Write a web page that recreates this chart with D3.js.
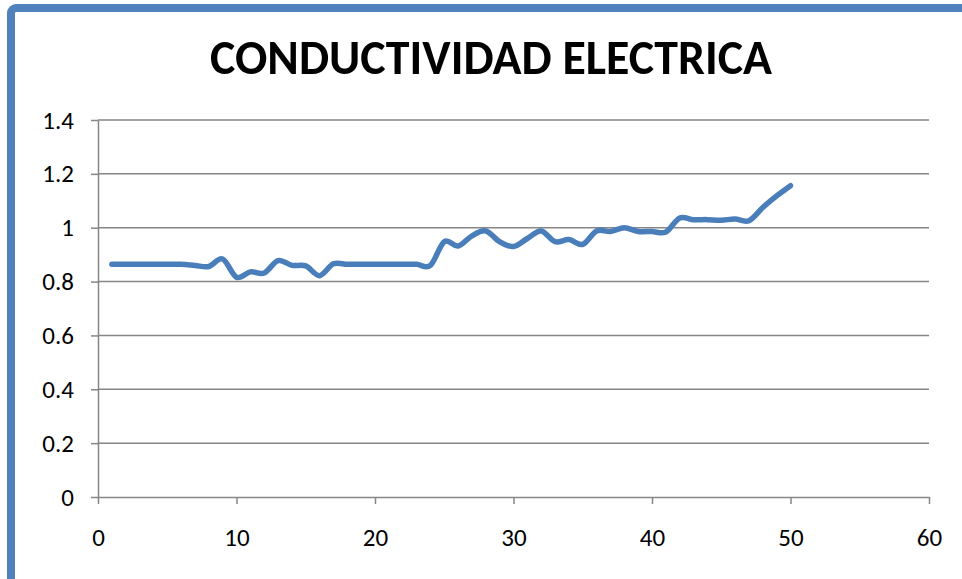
<!DOCTYPE html>
<html lang="es">
<head>
<meta charset="utf-8">
<script src="https://d3js.org/d3.v7.min.js"></script>
<style>
  body { margin: 0; background: #fff; }
  svg { display: block; }
  .tick text { font-family: Carlito, Lato, "Open Sans", sans-serif; font-size: 25px; fill: #000; }
</style>
</head>
<body>
<script>
    // muestras 1..50 y su conductividad
    const muestras = d3.range(1, 51);
    const conductividad = [
        0.864, 0.864, 0.864, 0.864, 0.864, 0.864, 0.860, 0.856, 0.884, 0.816,
        0.836, 0.832, 0.878, 0.860, 0.858, 0.822, 0.866, 0.864, 0.864, 0.864,
        0.864, 0.864, 0.864, 0.860, 0.948, 0.932, 0.970, 0.988, 0.948, 0.930,
        0.960, 0.988, 0.948, 0.956, 0.938, 0.988, 0.986, 1.000, 0.986, 0.986,
        0.984, 1.036, 1.030, 1.030, 1.028, 1.032, 1.026, 1.075, 1.118, 1.156
    ];
    const xTicks = [0, 10, 20, 30, 40, 50, 60];
    const yTicks = [0, 0.2, 0.4, 0.6, 0.8, 1, 1.2, 1.4];
    const titulo = 'CONDUCTIVIDAD ELECTRICA';

    const width = 962, height = 579;
    const gridColor = '#868686';
    const lineColor = '#4a7ebb';

    const svg = d3.select('body').append('svg')
        .attr('width', width)
        .attr('height', height);

    // marco azul del grafico (sale por la derecha y abajo)
    svg.append('rect')
        .attr('x', 11)
        .attr('y', 8)
        .attr('width', 1000)
        .attr('height', 700)
        .attr('rx', 5)
        .attr('fill', '#fff')
        .attr('stroke', '#4f81bd')
        .attr('stroke-width', 8);

    svg.append('text')
        .attr('x', 491)
        .attr('y', 74)
        .attr('text-anchor', 'middle')
        .attr('textLength', 562)
        .attr('lengthAdjust', 'spacingAndGlyphs')
        .style('font-family', 'Carlito, Lato, "Open Sans", sans-serif')
        .style('font-weight', 'bold')
        .style('font-size', '49px')
        .text(titulo);

    const x = d3.scaleLinear().domain([0, 60]).range([98, 929]);
    const y = d3.scaleLinear().domain([0, 1.4]).range([497, 120]);

    // lineas de division horizontales
    svg.append('g')
        .selectAll('line')
        .data(yTicks.filter(d => d > 0))
        .join('line')
        .attr('x1', x(0))
        .attr('x2', x(60))
        .attr('y1', d => y(d))
        .attr('y2', d => y(d))
        .attr('stroke', gridColor)
        .attr('stroke-width', 1.5);

    const xAxis = d3.axisBottom(x)
        .tickValues(xTicks)
        .tickSizeInner(7)
        .tickSizeOuter(0)
        .tickPadding(24)
        .tickFormat(d3.format('d'));

    const yAxis = d3.axisLeft(y)
        .tickValues(yTicks)
        .tickSizeInner(7)
        .tickSizeOuter(0)
        .tickPadding(17)
        .tickFormat(d => d === 0 || d === 1 ? d3.format('d')(d) : d3.format('.1f')(d));

    const gx = svg.append('g')
        .attr('transform', 'translate(0,' + y(0) + ')')
        .call(xAxis);

    const gy = svg.append('g')
        .attr('transform', 'translate(' + x(0) + ',0)')
        .call(yAxis);

    [gx, gy].forEach(g => {
        g.select('.domain').attr('stroke', gridColor).attr('stroke-width', 1.5);
        g.selectAll('.tick line').attr('stroke', gridColor).attr('stroke-width', 1.5);
    });

    const line = d3.line()
        .x((d, i) => x(muestras[i]))
        .y(d => y(d))
        .curve(d3.curveCardinal);

    svg.append('path')
        .datum(conductividad)
        .attr('fill', 'none')
        .attr('stroke', lineColor)
        .attr('stroke-width', 5.5)
        .attr('stroke-linecap', 'round')
        .attr('stroke-linejoin', 'round')
        .attr('d', line);
</script>
</body>
</html>
